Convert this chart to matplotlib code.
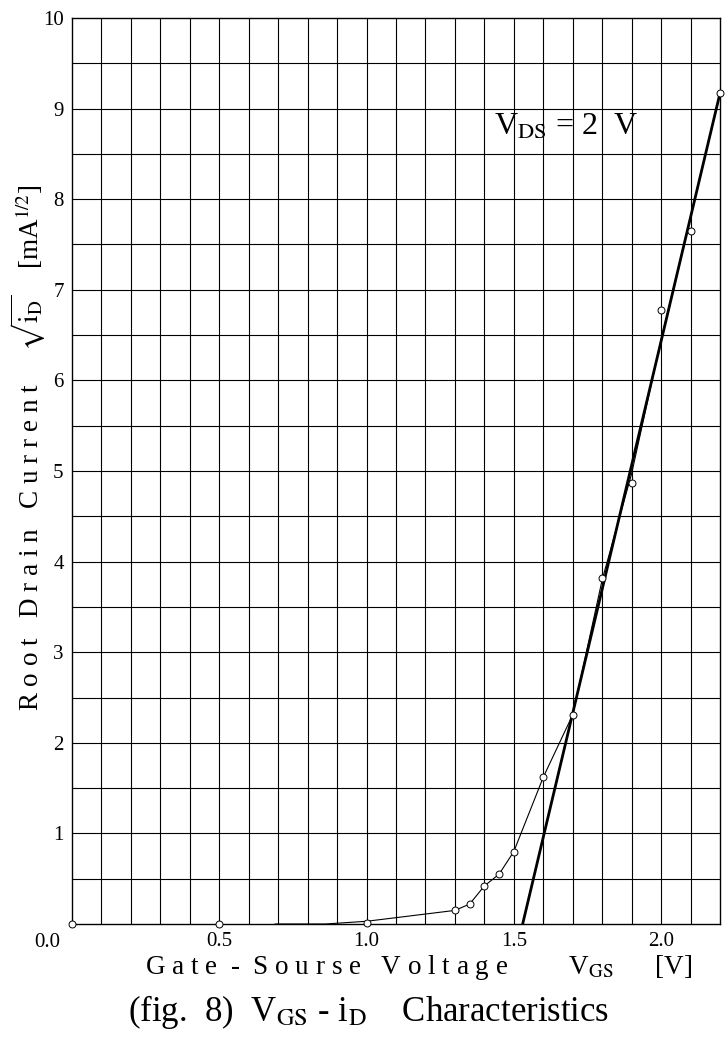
import matplotlib.pyplot as plt
import numpy as np

plt.rcParams['font.family'] = ['Liberation Serif', 'DejaVu Serif']
plt.rcParams['mathtext.fontset'] = 'stix'

# --- data ------------------------------------------------------------------
vgs_meas = [0.0, 0.5, 1.0, 1.3, 1.35, 1.4, 1.45, 1.5, 1.6, 1.7, 1.8, 1.9, 2.0, 2.1, 2.2]
sqrt_id_meas = [0.0, 0.0, 0.01, 0.15, 0.22, 0.42, 0.55, 0.80, 1.62, 2.31, 3.82, 4.87, 6.78, 7.65, 9.17]

# thin smoothed curve through the measurements
vgs_curve = [0.69, 0.86, 1.0, 1.3, 1.35, 1.4, 1.45, 1.5, 1.6, 1.7, 1.8, 1.9, 2.0, 2.1, 2.2]
sqrt_id_curve = [0.0, 0.0, 0.03, 0.15, 0.22, 0.42, 0.55, 0.80, 1.62, 2.31, 3.80, 4.97, 6.45, 7.80, 9.17]

# linear extrapolation (threshold line)
vgs_fit = [1.53, 2.2]
sqrt_id_fit = [0.0, 9.17]

x_ticks = [0.5, 1.0, 1.5, 2.0]
x_tick_labels = ['0.5', '1.0', '1.5', '2.0']
y_ticks = [1, 2, 3, 4, 5, 6, 7, 8, 9, 10]

# --- figure ----------------------------------------------------------------
fig = plt.figure(figsize=(7.28, 10.40), dpi=100)
ax = fig.add_axes([72 / 728, 1 - 924 / 1040, 648 / 728, 906 / 1040])

ax.set_xlim(0, 2.2)
ax.set_ylim(0, 10)

# grid
for gx in np.arange(0.1, 2.2, 0.1):
    ax.axvline(gx, color='black', linewidth=0.8, zorder=1)
for gy in np.arange(0.5, 10, 0.5):
    ax.axhline(gy, color='black', linewidth=0.8, zorder=1)
for sp in ax.spines.values():
    sp.set_linewidth(1.0)

ax.plot(vgs_curve, sqrt_id_curve, color='black', linewidth=0.8, zorder=3)
ax.plot(vgs_fit, sqrt_id_fit, color='black', linewidth=2.0, zorder=4)
ax.plot(vgs_meas, sqrt_id_meas, linestyle='none', marker='o', markersize=5,
        markerfacecolor='white', markeredgecolor='black', markeredgewidth=0.7,
        zorder=5, clip_on=False)

ax.set_xticks(x_ticks)
ax.set_xticklabels(x_tick_labels, fontsize=15)
ax.set_yticks(y_ticks)
ax.set_yticklabels([str(v) for v in y_ticks], fontsize=15)
ax.tick_params(length=0, pad=6)
ax.text(-0.04, -0.1, '0.0', fontsize=15, ha='right', va='top',
        transform=ax.transData)

ax.text(1.432, 8.79, r'V$_{\mathrm{DS}}$ = 2  V', fontsize=23, ha='left', va='center')

# axis labels with letter spacing
fig.text(28 / 728, 1 - 448 / 1040,
         r'R o o t   D r a i n   C u r r e n t     $\sqrt{\mathrm{i}_{\mathrm{D}}}$    [mA$^{1/2}$]',
         rotation=90, fontsize=19.5, ha='center', va='center')
fig.text(419 / 728, 1 - 968 / 1040,
         r'G a t e  -  S o u r s e   V o l t a g e         V$_{\mathrm{GS}}$      [V]',
         fontsize=19.5, ha='center', va='center')
fig.text(369 / 728, 1 - 1012 / 1040,
         r'(fig.  8)  V$_{\mathrm{GS}}$ - i$_{\mathrm{D}}$    Characteristics',
         fontsize=25, ha='center', va='center')

fig.savefig('out.png', dpi=100)
